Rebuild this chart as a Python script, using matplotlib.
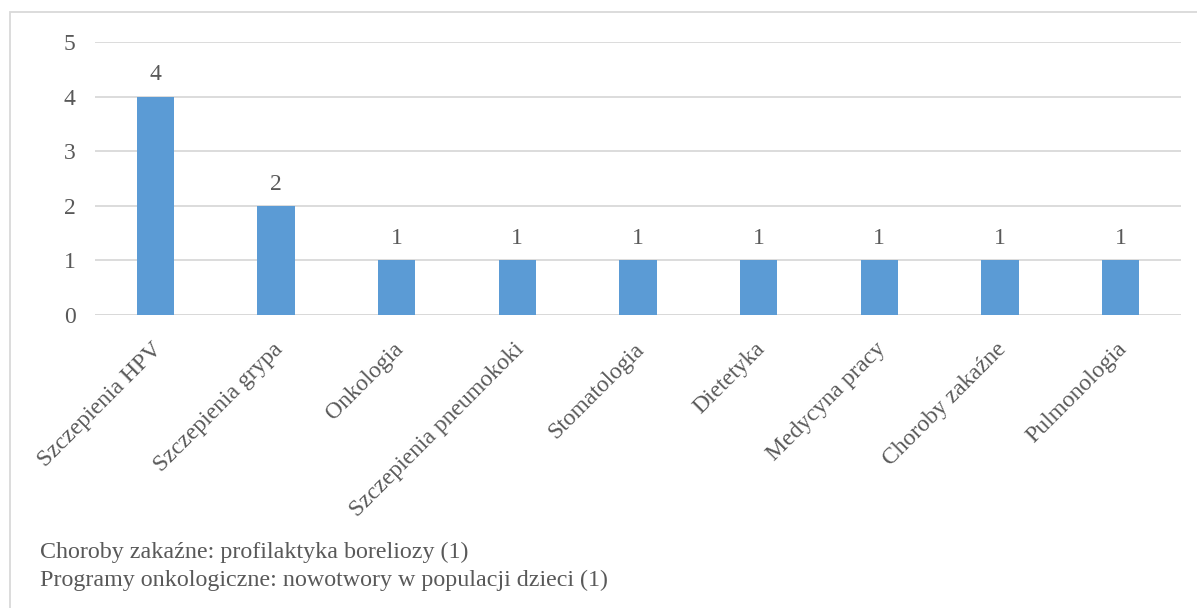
import matplotlib.pyplot as plt
import matplotlib.transforms as mtransforms
from matplotlib.patches import Rectangle

categories = ['Szczepienia HPV', 'Szczepienia grypa', 'Onkologia', 'Szczepienia pneumokoki',
              'Stomatologia', 'Dietetyka', 'Medycyna pracy', 'Choroby zakaźne', 'Pulmonologia']
counts = [4, 2, 1, 1, 1, 1, 1, 1, 1]
notes = ['Choroby zakaźne: profilaktyka boreliozy (1)',
         'Programy onkologiczne: nowotwory w populacji dzieci (1)']

plt.rcParams['font.family'] = ['Liberation Serif', 'DejaVu Serif']
txt = '#595959'
grid = '#D9D9D9'
fs = 17

fig = plt.figure(figsize=(11.97, 6.08), dpi=100)
W, H = 1197, 608
ax = fig.add_axes([95 / W, 1 - 315 / H, (1181 - 95) / W, (315 - 42) / H])

x = range(len(categories))
bars = ax.bar(x, counts, width=0.31, color='#5B9BD5', zorder=3)
for b, v in zip(bars, counts):
    ax.annotate(str(v), (b.get_x() + b.get_width() / 2, v), xytext=(0, 8),
                textcoords='offset points', ha='center', va='bottom',
                fontsize=fs, color=txt)

ax.set_xlim(-0.5, len(categories) - 0.5)
ax.set_ylim(0, 5)
ax.set_yticks(range(6))
ax.yaxis.grid(True, color=grid, linewidth=1.3, zorder=0)
for s in ax.spines.values():
    s.set_visible(False)
ax.axhline(0, color=grid, linewidth=1.3, zorder=2)
ax.tick_params(axis='both', length=0, labelsize=fs, labelcolor=txt)
ax.tick_params(axis='y', pad=14)
ax.set_xticks(list(x))
ax.set_xticklabels(categories, rotation=45, ha='right', va='top', rotation_mode='anchor')
ax.tick_params(axis='x', pad=17)
shift = mtransforms.ScaledTranslation(-4 / 100, 0, fig.dpi_scale_trans)
for lab in ax.get_xticklabels():
    lab.set_transform(lab.get_transform() + shift)

fig.text(40 / W, 1 - 552 / H, notes[0], fontsize=17.3, color=txt, va='center')
fig.text(40 / W, 1 - 580 / H, notes[1], fontsize=17.3, color=txt, va='center')

fig.patches.append(Rectangle((10 / W, -0.1), 1.2, 1 - 12 / H + 0.1, transform=fig.transFigure,
                             fill=False, edgecolor=grid, linewidth=1.3))

fig.savefig('out.png', dpi=100)
